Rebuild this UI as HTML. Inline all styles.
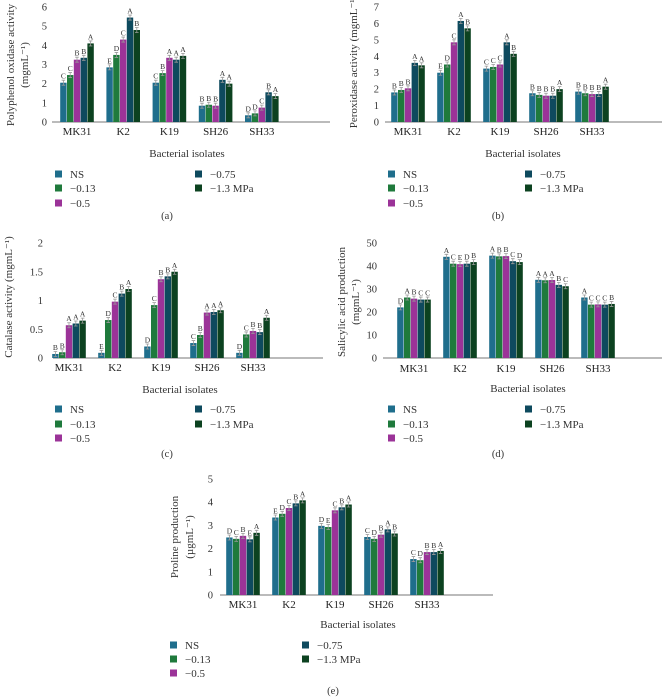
<!DOCTYPE html>
<html><head><meta charset="utf-8"><style>
body{margin:0;background:#fff}
svg{display:block;font-family:"Liberation Serif",serif}
</style></head><body>
<svg id="fig" width="668" height="700" viewBox="0 0 668 700"></svg>
<script>
const categories = ["MK31","K2","K19","SH26","SH33"];
const seriesNames = ["NS","\u22120.13","\u22120.5","\u22120.75","\u22121.3 MPa"];
const colors = ["#1f6e8c","#1f7a3c","#9b3398","#0e4a5e","#0c4220"];
// panel a: polyphenol oxidase
const ppoNS=[2.05,2.85,2.05,0.85,0.35], ppo013=[2.45,3.5,2.55,0.9,0.45], ppo05=[3.25,4.3,3.35,0.85,0.75], ppo075=[3.35,5.45,3.25,2.2,1.55], ppo13=[4.1,4.8,3.45,2.0,1.35];
const ppoLetters=[["C","E","C","B","D"],["C","D","B","B","D"],["B","C","A","B","C"],["B","A","A","A","B"],["A","B","A","A","A"]];
const ppoTicks=[0,1,2,3,4,5,6];
// panel b: peroxidase
const poxNS=[1.8,3.0,3.25,1.75,1.85], pox013=[1.95,3.5,3.35,1.65,1.75], pox05=[2.05,4.85,3.5,1.6,1.7], pox075=[3.6,6.15,4.85,1.6,1.7], pox13=[3.45,5.7,4.15,2.0,2.15];
const poxLetters=[["B","E","C","B","B"],["B","D","C","B","B"],["B","C","C","B","B"],["A","A","A","B","B"],["A","B","B","A","A"]];
const poxTicks=[0,1,2,3,4,5,6,7];
// panel c: catalase
const catNS=[0.07,0.09,0.2,0.26,0.09], cat013=[0.1,0.66,0.92,0.4,0.41], cat05=[0.57,0.98,1.37,0.79,0.47], cat075=[0.6,1.12,1.42,0.8,0.45], cat13=[0.65,1.2,1.5,0.83,0.7];
const catLetters=[["B","E","D","C","D"],["B","D","C","B","C"],["A","C","B","A","B"],["A","B","B","A","B"],["A","A","A","A","A"]];
const catTicks=[0,0.5,1,1.5,2];
const catTickLabels=["0","0.5","1","1.5","2"];
// panel d: salicylic acid
const saNS=[22,44,44.5,34,26.3], sa013=[26.3,41,44.2,33.8,23.2], sa05=[25.8,40.8,44.3,33.9,23.3], sa075=[25.4,41,42.1,31.8,23.2], sa13=[25.4,41.7,41.7,31.2,23.5];
const saLetters=[["D","A","A","A","A"],["A","C","B","A","C"],["B","E","B","A","C"],["C","D","C","B","C"],["C","B","D","C","B"]];
const saTicks=[0,10,20,30,40,50];
// panel e: proline
const proNS=[2.48,3.34,2.98,2.5,1.55], pro013=[2.42,3.5,2.93,2.42,1.5], pro05=[2.55,3.75,3.65,2.6,1.85], pro075=[2.4,3.95,3.78,2.83,1.85], pro13=[2.68,4.08,3.9,2.65,1.9];
const proLetters=[["D","E","D","C","C"],["C","D","E","D","D"],["B","C","C","B","B"],["E","B","B","A","B"],["A","A","A","B","A"]];
const proTicks=[0,1,2,3,4,5];

const NS="http://www.w3.org/2000/svg";
const svg=document.getElementById("fig");
function mk(tag,attrs,parent){const e=document.createElementNS(NS,tag);for(const k in attrs)e.setAttribute(k,attrs[k]);(parent||svg).appendChild(e);return e;}

const panels=[
 {id:"a",series:[ppoNS,ppo013,ppo05,ppo075,ppo13],letters:ppoLetters,ticks:ppoTicks,tl:null,yMax:6,x0:52,x1:330,y0:122,yT:7,c0:77,sp:46.2,tx:47,
  titles:[["Polyphenol oxidase activity",14],["(mgmL\u207B\u00B9)",28]],tcy:65,catY:135,xtX:187,xtY:157,
  leg:{sx:55,rx:195,ry:[174,188,203],lab:"(a)",lx:167,ly:219}},
 {id:"b",series:[poxNS,pox013,pox05,pox075,pox13],letters:poxLetters,ticks:poxTicks,tl:null,yMax:7,x0:385,x1:662,y0:122,yT:7,c0:408,sp:46,tx:379,
  titles:[["Peroxidase activity (mgmL\u207B\u00B9)",357]],tcy:62,catY:135,xtX:523,xtY:157,
  leg:{sx:388,rx:525,ry:[174,188,203],lab:"(b)",lx:498,ly:219}},
 {id:"c",series:[catNS,cat013,cat05,cat075,cat13],letters:catLetters,ticks:catTicks,tl:catTickLabels,yMax:2,x0:53,x1:323,y0:358,yT:243,c0:69,sp:46,tx:43,
  titles:[["Catalase activity (mgmL\u207B\u00B9)",12]],tcy:297,catY:371,xtX:180,xtY:393,
  leg:{sx:55,rx:195,ry:[409,424,438],lab:"(c)",lx:167,ly:457}},
 {id:"d",series:[saNS,sa013,sa05,sa075,sa13],letters:saLetters,ticks:saTicks,tl:null,yMax:50,x0:383,x1:662,y0:358,yT:243,c0:414,sp:46,tx:377,
  titles:[["Salicylic acid production",345],["(mgmL\u207B\u00B9)",359]],tcy:302,catY:372,xtX:528,xtY:392,
  leg:{sx:388,rx:525,ry:[409,424,438],lab:"(d)",lx:498,ly:457}},
 {id:"e",series:[proNS,pro013,pro05,pro075,pro13],letters:proLetters,ticks:proTicks,tl:null,yMax:5,x0:220,x1:493,y0:595,yT:479,c0:243,sp:46,tx:213,
  titles:[["Proline production",178],["(\u00B5gmL\u207B\u00B9)",193]],tcy:537,catY:608,xtX:358,xtY:628,
  leg:{sx:170,rx:302,ry:[645,659,673],lab:"(e)",lx:333,ly:694}}
];

panels.forEach(p=>{
 const g=mk("g",{});
 
 
 const yS=v=>p.y0-(v/p.yMax)*(p.y0-p.yT);
 const bw=6.4, gap=0.4, gw=5*bw+4*gap;
 p.ticks.forEach((t,i)=>{
  const tx=mk("text",{x:p.tx,y:yS(t)+3.5,"text-anchor":"end","font-size":"10.5",fill:"#333"},g);
  tx.textContent=p.tl?p.tl[i]:String(t);
  
  
 });
 const ax=mk("line",{x1:p.x0,x2:p.x1,y1:p.y0,y2:p.y0,stroke:"#777","stroke-width":"1"},g);
 
 
 categories.forEach((c,ci)=>{
  const cx=p.c0+ci*p.sp;
  const t=mk("text",{x:cx,y:p.catY,"text-anchor":"middle","font-size":"11",fill:"#222"},g);
  t.textContent=c;
  
  
  p.series.forEach((s,si)=>{
   const v=s[ci];
   const bx=cx-gw/2+si*(bw+gap);
   const by=yS(v);
   const r=mk("rect",{x:bx,y:by,width:bw,height:p.y0-by,fill:colors[si]},g);
   
   
   const e=mk("path",{d:`M${bx+bw/2},${by-2.5}V${by+2.5}M${bx+bw/2-1.8},${by-2.5}H${bx+bw/2+1.8}M${bx+bw/2-1.8},${by+2.5}H${bx+bw/2+1.8}`,stroke:"#999","stroke-width":"0.8",fill:"none"},g);
   
   
   const l=mk("text",{x:bx+bw/2,y:by-4,"text-anchor":"middle","font-size":"7.5",fill:"#333"},g);
   l.textContent=p.letters[si][ci];
   
   
  });
 });
 p.titles.forEach(([txt,x])=>{
  const t=mk("text",{x:x,y:p.tcy,transform:`rotate(-90 ${x} ${p.tcy})`,"text-anchor":"middle","font-size":"11",fill:"#333"},g);
  t.textContent=txt;
  
  
 });
 const xt=mk("text",{x:p.xtX,y:p.xtY,"text-anchor":"middle","font-size":"11",fill:"#333"},g);
 xt.textContent="Bacterial isolates";
 
 
 const L=p.leg;
 const pos=[[L.sx,L.ry[0]],[L.sx,L.ry[1]],[L.sx,L.ry[2]],[L.rx,L.ry[0]],[L.rx,L.ry[1]]];
 seriesNames.forEach((n,i)=>{
  const [lx,ly]=pos[i];
  const sq=mk("rect",{x:lx,y:ly-3.5,width:7,height:7,fill:colors[i]},g);
  
  
  const t=mk("text",{x:lx+15,y:ly+4,"font-size":"11",fill:"#333"},g);
  t.textContent=n;
  
  
 });
 const pl=mk("text",{x:L.lx,y:L.ly,"text-anchor":"middle","font-size":"10.5",fill:"#333"},g);
 pl.textContent=L.lab;
 
 
});
</script>
</body></html>
